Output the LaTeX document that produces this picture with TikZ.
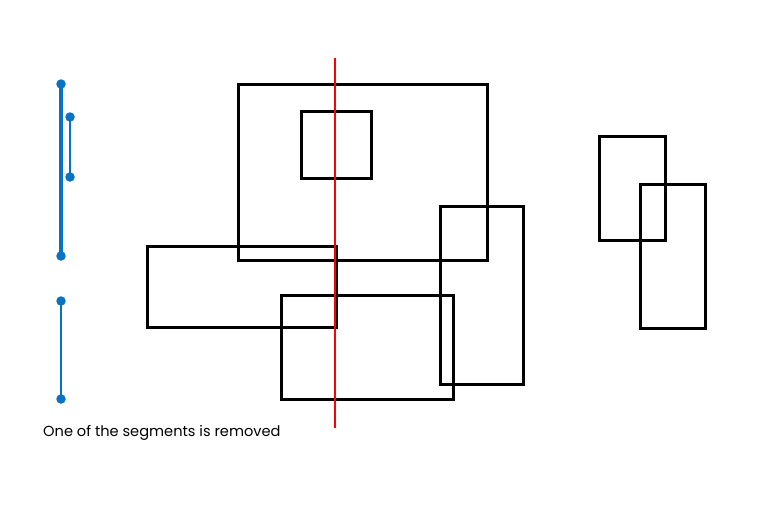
\documentclass[tikz,border=0pt]{standalone}
\usepackage{fontspec}
\setmainfont{Poppins}
\definecolor{segblue}{HTML}{0A72C4}
\definecolor{cutred}{HTML}{FF0000}
\begin{document}
\begin{tikzpicture}[x=1pt,y=-1pt,
  box/.style={draw=black,line width=3pt},
  seg/.style={draw=segblue,line width=2.4pt},
  dot/.style={circle,fill=segblue,inner sep=0pt,minimum size=9.5pt}]
\useasboundingbox (0,0) rectangle (760,506);
% rectangles
\draw[box] (238,84) rectangle (487,260);
\draw[box] (301,111) rectangle (371,178);
\draw[box] (147,246) rectangle (336,327);
\draw[box] (281,295) rectangle (453,399);
\draw[box] (440,206) rectangle (523,384);
\draw[box] (599,136) rectangle (665,240);
\draw[box] (640,184) rectangle (705,328);
% red line
\coordinate (rt) at (335,58);
\coordinate (rb) at (335,428);
\draw[cutred,line width=2.8pt] (rt) -- (rb);
% blue segments
\node[dot] (a1) at (61,84) {};
\node[dot] (a2) at (61,256) {};
\node[dot] (b1) at (70,117) {};
\node[dot] (b2) at (70,177) {};
\node[dot] (c1) at (61,301) {};
\node[dot] (c2) at (61,399) {};
\draw[seg,line width=3.2pt] (a1.center) -- (a2.center);
\draw[seg] (b1.center) -- (b2.center);
\draw[seg] (c1.center) -- (c2.center);
\node[anchor=base west,inner sep=0pt,font=\fontsize{14.6}{16}\selectfont] (lbl) at (43,436) {One of the segments is removed};
\end{tikzpicture}
\end{document}
